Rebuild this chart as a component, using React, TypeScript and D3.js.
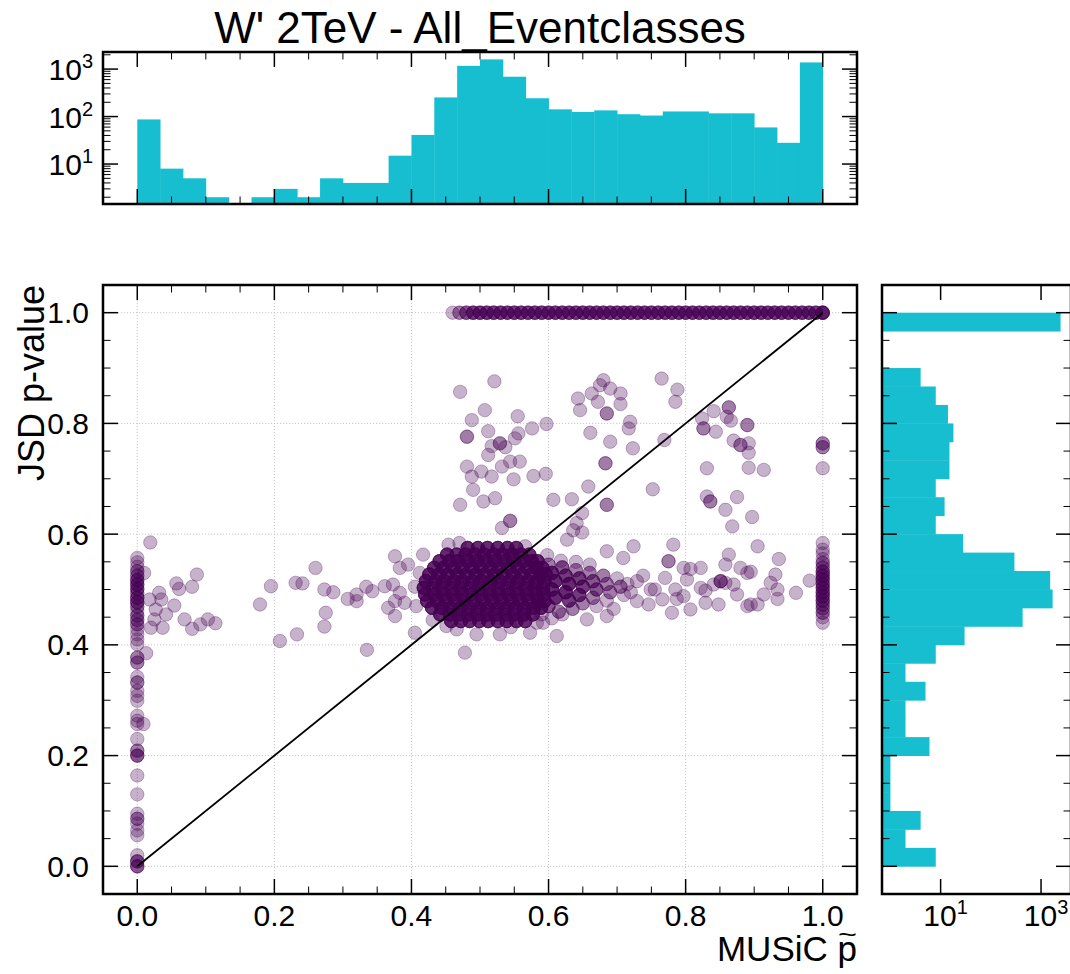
import React from "react";
import * as d3 from "d3";

// ---------------- text ----------------
const TITLE = "W' 2TeV - All_Eventclasses";
const X_LABEL_MAIN = "MUSiC p";
const X_LABEL_ACCENT = "~";
const Y_LABEL = "JSD p-value";

// ---------------- ticks ----------------
const MAJOR_TICKS = [0, 0.2, 0.4, 0.6, 0.8, 1.0];
const MINOR_TICKS = [0.05, 0.1, 0.15, 0.25, 0.3, 0.35, 0.45, 0.5, 0.55, 0.65, 0.7, 0.75, 0.85, 0.9, 0.95];
const TOP_MAJOR = [10, 100, 1000];
const TOP_MAJOR_EXP = ["1", "2", "3"];
const RIGHT_MAJOR = [10, 1000];
const RIGHT_MAJOR_EXP = ["1", "3"];

// ---------------- histograms (30 bins on [0,1]) ----------------
const N_BINS = 30;
const TOP_COUNTS = [87, 8, 5, 2, 0, 2, 3, 2, 5, 4, 4, 15, 41, 253, 1170, 1600, 690, 243, 142, 125, 135, 112, 105, 128, 128, 117, 117, 59, 28, 1380];
const RIGHT_COUNTS = [8, 2, 4, 1, 1, 1, 6, 2, 2, 5, 2, 8, 30, 430, 1700, 1520, 295, 28, 8, 12, 8, 15, 15, 18, 14, 8, 4, 0, 0, 2450];

// ---------------- scatter data ----------------
// points with JSD p-value = 1.0 : [MUSiC p, count]
const JSD_ONE_ROW: [number, number][] = [
  [0.46, 1], [0.47, 2], [0.48, 3], [0.49, 4], [0.50, 4], [0.51, 4], [0.52, 4], [0.53, 4], [0.54, 4], [0.55, 4],
  [0.56, 4], [0.57, 4], [0.58, 4], [0.59, 4], [0.60, 4], [0.61, 4], [0.62, 4], [0.63, 4], [0.64, 4], [0.65, 4],
  [0.66, 4], [0.67, 4], [0.68, 4], [0.69, 4], [0.70, 4], [0.71, 4], [0.72, 4], [0.73, 4], [0.74, 4], [0.75, 4],
  [0.76, 4], [0.77, 4], [0.78, 4], [0.79, 4], [0.80, 4], [0.81, 4], [0.82, 4], [0.83, 4], [0.84, 4], [0.85, 4],
  [0.86, 4], [0.87, 4], [0.88, 4], [0.89, 4], [0.90, 4], [0.91, 4], [0.92, 4], [0.93, 4], [0.94, 4], [0.95, 4],
  [0.96, 4], [0.97, 4], [0.98, 4], [0.99, 4], [1.00, 6],
];

// points with MUSiC p = 0 : [JSD, count]
const MUSIC_ZERO_COL: [number, number][] = [
  [0.0, 3], [0.009, 3], [0.02, 1], [0.056, 1], [0.065, 1], [0.077, 1], [0.086, 2], [0.095, 1], [0.13, 1], [0.164, 1],
  [0.2, 3], [0.209, 2], [0.23, 1], [0.257, 1], [0.263, 1], [0.272, 1], [0.299, 1], [0.308, 1], [0.317, 1], [0.332, 2],
  [0.342, 1], [0.368, 2], [0.377, 2], [0.401, 1], [0.41, 1], [0.419, 1], [0.428, 1], [0.437, 2], [0.445, 2], [0.453, 2],
  [0.461, 1], [0.469, 2], [0.477, 3], [0.485, 3], [0.493, 2], [0.501, 3], [0.509, 3], [0.517, 3], [0.525, 2], [0.533, 2],
  [0.541, 1], [0.549, 1], [0.557, 1],
];

// points with MUSiC p = 1 : [JSD, count]
const MUSIC_ONE_COL: [number, number][] = [
  [0.44, 1], [0.45, 1], [0.458, 2], [0.466, 2], [0.473, 2], [0.48, 3], [0.488, 3], [0.495, 3], [0.503, 3], [0.51, 3],
  [0.518, 3], [0.525, 3], [0.532, 3], [0.54, 2], [0.548, 2], [0.555, 1], [0.565, 1], [0.572, 1], [0.584, 1],
  [0.719, 1], [0.757, 2], [0.764, 2],
];

// dense core around (0.51, 0.50): [JSD, MUSiC p values], 5 events each
const CORE_ROWS: [number, number[]][] = [
  [0.575, [0.482, 0.497, 0.511, 0.526, 0.540, 0.553]],
  [0.563, [0.452, 0.466, 0.479, 0.493, 0.506, 0.520, 0.533, 0.547, 0.560, 0.572]],
  [0.551, [0.441, 0.455, 0.468, 0.482, 0.495, 0.509, 0.522, 0.536, 0.549, 0.563, 0.576, 0.584]],
  [0.539, [0.433, 0.447, 0.461, 0.474, 0.488, 0.501, 0.515, 0.528, 0.542, 0.555, 0.569, 0.582, 0.591]],
  [0.527, [0.426, 0.440, 0.453, 0.467, 0.480, 0.494, 0.507, 0.521, 0.534, 0.548, 0.561, 0.575, 0.588, 0.596]],
  [0.515, [0.421, 0.435, 0.448, 0.462, 0.475, 0.489, 0.502, 0.516, 0.529, 0.543, 0.556, 0.570, 0.583, 0.594]],
  [0.503, [0.418, 0.432, 0.445, 0.459, 0.472, 0.486, 0.499, 0.513, 0.526, 0.540, 0.553, 0.567, 0.580, 0.592]],
  [0.491, [0.420, 0.434, 0.447, 0.461, 0.474, 0.488, 0.501, 0.515, 0.528, 0.542, 0.555, 0.569, 0.582, 0.593]],
  [0.479, [0.423, 0.437, 0.450, 0.464, 0.477, 0.491, 0.504, 0.518, 0.531, 0.545, 0.558, 0.572, 0.585, 0.594]],
  [0.467, [0.430, 0.444, 0.457, 0.471, 0.484, 0.498, 0.511, 0.525, 0.538, 0.552, 0.565, 0.579, 0.589]],
  [0.455, [0.442, 0.456, 0.469, 0.483, 0.496, 0.510, 0.523, 0.537, 0.550, 0.564, 0.577]],
  [0.443, [0.458, 0.472, 0.485, 0.499, 0.512, 0.526, 0.539, 0.553, 0.566]],
];

// tail of the core towards higher MUSiC p : [MUSiC p, JSD, count]
const TAIL_POINTS: [number, number, number][] = [
  [0.600, 0.545, 2], [0.605, 0.530, 5], [0.610, 0.515, 5], [0.605, 0.500, 5], [0.610, 0.485, 5], [0.600, 0.470, 3],
  [0.615, 0.460, 2], [0.620, 0.540, 3], [0.625, 0.525, 4], [0.630, 0.510, 5], [0.625, 0.495, 5], [0.630, 0.480, 4],
  [0.635, 0.465, 2], [0.640, 0.535, 2], [0.645, 0.520, 4], [0.650, 0.505, 4], [0.645, 0.490, 4], [0.650, 0.475, 2],
  [0.660, 0.530, 2], [0.665, 0.515, 3], [0.670, 0.500, 3], [0.665, 0.485, 2], [0.670, 0.470, 1], [0.680, 0.525, 2],
  [0.685, 0.510, 2], [0.690, 0.495, 2], [0.685, 0.480, 1], [0.700, 0.520, 1], [0.705, 0.505, 2], [0.710, 0.490, 1],
  [0.715, 0.510, 1], [0.720, 0.495, 1], [0.695, 0.465, 1], [0.656, 0.446, 1], [0.685, 0.452, 1], [0.612, 0.416, 1],
  [0.573, 0.422, 1], [0.620, 0.455, 1], [0.590, 0.455, 1], [0.640, 0.550, 1], [0.660, 0.545, 1],
  [0.598, 0.562, 1], [0.618, 0.552, 1], [0.592, 0.440, 1], [0.605, 0.448, 1],
];

// isolated points : [MUSiC p, JSD, count]
const SPARSE_POINTS: [number, number, number][] = [
  // near MUSiC p = 0
  [0.010, 0.530, 1], [0.057, 0.511, 1], [0.061, 0.501, 1], [0.080, 0.505, 1], [0.087, 0.527, 1], [0.032, 0.494, 1],
  [0.018, 0.482, 1], [0.035, 0.482, 1], [0.054, 0.471, 1], [0.042, 0.455, 1], [0.025, 0.446, 1], [0.020, 0.431, 1],
  [0.037, 0.431, 1], [0.069, 0.446, 1], [0.080, 0.429, 1], [0.092, 0.437, 1], [0.103, 0.446, 1], [0.114, 0.439, 1],
  [0.027, 0.464, 1], [0.013, 0.385, 1], [0.009, 0.257, 1], [0.019, 0.585, 1],
  // low MUSiC p plateau
  [0.195, 0.506, 1], [0.179, 0.473, 1], [0.231, 0.512, 1], [0.241, 0.511, 1], [0.260, 0.539, 1], [0.273, 0.500, 1],
  [0.286, 0.495, 1], [0.275, 0.458, 1], [0.307, 0.483, 1], [0.320, 0.491, 1], [0.320, 0.479, 1], [0.334, 0.505, 1],
  [0.343, 0.497, 1], [0.376, 0.479, 1], [0.383, 0.494, 1], [0.208, 0.407, 1], [0.233, 0.419, 1], [0.273, 0.433, 1],
  [0.335, 0.391, 1],
  // around the core
  [0.376, 0.560, 1], [0.383, 0.539, 1], [0.395, 0.545, 1], [0.373, 0.509, 1], [0.361, 0.506, 1], [0.366, 0.467, 1],
  [0.376, 0.452, 1], [0.390, 0.476, 1], [0.405, 0.422, 1], [0.417, 0.563, 1], [0.454, 0.581, 1], [0.478, 0.386, 1],
  [0.529, 0.419, 1], [0.451, 0.434, 1], [0.495, 0.419, 1], [0.412, 0.530, 1], [0.405, 0.505, 1], [0.407, 0.470, 1],
  [0.431, 0.445, 1], [0.466, 0.428, 1], [0.545, 0.432, 1], [0.583, 0.440, 1], [0.470, 0.584, 1], [0.566, 0.578, 1],
  // upper group
  [0.471, 0.857, 1], [0.521, 0.876, 1], [0.507, 0.824, 1], [0.488, 0.806, 1], [0.555, 0.813, 1], [0.481, 0.776, 2],
  [0.512, 0.786, 1], [0.556, 0.782, 1], [0.576, 0.791, 1], [0.597, 0.799, 1], [0.517, 0.759, 1], [0.529, 0.764, 2],
  [0.537, 0.757, 1], [0.551, 0.773, 1], [0.512, 0.743, 1], [0.481, 0.722, 1], [0.488, 0.704, 1], [0.502, 0.713, 1],
  [0.517, 0.704, 1], [0.532, 0.722, 1], [0.544, 0.731, 1], [0.558, 0.731, 1], [0.549, 0.699, 1], [0.490, 0.680, 1],
  [0.505, 0.659, 1], [0.522, 0.665, 1], [0.578, 0.705, 1], [0.596, 0.709, 1], [0.471, 0.653, 1], [0.607, 0.662, 1],
  [0.634, 0.663, 1], [0.658, 0.686, 1], [0.685, 0.653, 2],
  [0.680, 0.878, 1], [0.675, 0.869, 1], [0.663, 0.854, 1], [0.690, 0.863, 1], [0.705, 0.854, 1], [0.705, 0.835, 1],
  [0.672, 0.839, 1], [0.643, 0.845, 1], [0.646, 0.824, 1], [0.685, 0.818, 2], [0.719, 0.803, 1], [0.717, 0.791, 1],
  [0.661, 0.783, 1], [0.690, 0.767, 1], [0.723, 0.755, 1], [0.683, 0.728, 2],
  [0.765, 0.881, 1], [0.788, 0.861, 1], [0.785, 0.839, 1], [0.769, 0.770, 1], [0.752, 0.681, 1], [0.824, 0.809, 1],
  [0.841, 0.822, 1], [0.826, 0.791, 2], [0.844, 0.785, 1], [0.863, 0.829, 2], [0.860, 0.812, 1], [0.866, 0.805, 1],
  [0.890, 0.797, 2], [0.870, 0.769, 1], [0.880, 0.761, 2], [0.892, 0.764, 1], [0.892, 0.747, 1], [0.831, 0.719, 1],
  [0.892, 0.720, 1], [0.914, 0.716, 1], [0.831, 0.668, 1], [0.836, 0.659, 2], [0.875, 0.667, 1], [0.858, 0.644, 1],
  [0.897, 0.631, 1], [0.868, 0.614, 1],
  [0.532, 0.611, 1], [0.544, 0.624, 2], [0.627, 0.590, 1], [0.636, 0.607, 1], [0.649, 0.603, 1], [0.641, 0.620, 1],
  [0.649, 0.638, 1],
  // right plateau
  [0.685, 0.569, 1], [0.724, 0.578, 1], [0.709, 0.557, 1], [0.782, 0.581, 1], [0.775, 0.551, 2], [0.797, 0.539, 1],
  [0.807, 0.537, 1], [0.822, 0.539, 1], [0.863, 0.563, 1], [0.858, 0.545, 1], [0.905, 0.578, 1], [0.936, 0.555, 1],
  [0.931, 0.527, 1], [0.880, 0.539, 1], [0.890, 0.530, 1], [0.895, 0.532, 1], [0.961, 0.494, 1], [0.981, 0.516, 1],
  [0.924, 0.512, 1], [0.934, 0.500, 1], [0.934, 0.483, 1], [0.914, 0.491, 1], [0.905, 0.473, 1], [0.890, 0.470, 1],
  [0.895, 0.473, 1], [0.875, 0.491, 1], [0.870, 0.509, 1], [0.851, 0.515, 3], [0.841, 0.509, 1], [0.858, 0.512, 1],
  [0.822, 0.503, 1], [0.829, 0.498, 1], [0.848, 0.473, 1], [0.829, 0.476, 1], [0.807, 0.464, 1], [0.797, 0.488, 1],
  [0.785, 0.500, 1], [0.780, 0.458, 1], [0.787, 0.483, 1], [0.802, 0.518, 1], [0.770, 0.521, 1], [0.766, 0.482, 1],
  [0.749, 0.500, 1], [0.746, 0.473, 1], [0.729, 0.515, 1], [0.729, 0.479, 1], [0.738, 0.525, 1], [0.755, 0.500, 1],
];

// ---------------- layout ----------------
const W = 1070;
const H = 974;
const MAIN = { l: 103, r: 857, t: 285, b: 894 };
const TOP = { l: 103, r: 857, t: 52, b: 204 };
const RIGHT = { l: 882, r: 1071, t: 285, b: 894 };
const FONT = "'Liberation Sans', Arial, Helvetica, sans-serif";
const PURPLE = "#440154";
const CYAN = "#17becf";
const MAJ = 15;
const MIN = 7.5;
const TICK_FS = 30;
const SUP_FS = 20;

export default function App() {
  const x = d3.scaleLinear().domain([-0.05, 1.05]).range([MAIN.l, MAIN.r]);
  const y = d3.scaleLinear().domain([-0.05, 1.05]).range([MAIN.b, MAIN.t]);
  const yTop = d3.scaleLog().domain([1.44, 2290]).range([TOP.b, TOP.t]);
  const xRight = d3.scaleLog().domain([0.68, 3950]).range([RIGHT.l, RIGHT.r]);
  const binEdges = d3.range(N_BINS + 1).map((i) => i / N_BINS);
  const fmt = d3.format(".1f");

  // expand scatter points
  const pts: { px: number; py: number }[] = [];
  const add = (xv: number, yv: number, n: number) => {
    for (let i = 0; i < n; i++) pts.push({ px: x(xv), py: y(yv) });
  };
  MUSIC_ZERO_COL.forEach(([yv, n]) => add(0, yv, n));
  SPARSE_POINTS.forEach(([xv, yv, n]) => add(xv, yv, n));
  TAIL_POINTS.forEach(([xv, yv, n]) => add(xv, yv, n));
  CORE_ROWS.forEach(([yv, xs]) => xs.forEach((xv) => add(xv, yv, 5)));
  MUSIC_ONE_COL.forEach(([yv, n]) => add(1, yv, n));
  JSD_ONE_ROW.forEach(([xv, n]) => add(xv, 1, n));

  // top minor log ticks
  const topMinor: number[] = [];
  [1, 10, 100, 1000].forEach((d) => {
    for (let k = 2; k <= 9; k++) {
      const v = d * k;
      if (v > 1.44 && v < 2290) topMinor.push(v);
    }
  });

  const xTicks = (box: typeof MAIN) => (
    <g stroke="#000">
      {MAJOR_TICKS.map((t) => (
        <g key={"M" + t} strokeWidth={1.5}>
          <line x1={x(t)} x2={x(t)} y1={box.b} y2={box.b - MAJ} />
          <line x1={x(t)} x2={x(t)} y1={box.t} y2={box.t + MAJ} />
        </g>
      ))}
      {MINOR_TICKS.map((t) => (
        <g key={"m" + t} strokeWidth={1}>
          <line x1={x(t)} x2={x(t)} y1={box.b} y2={box.b - MIN} />
          <line x1={x(t)} x2={x(t)} y1={box.t} y2={box.t + MIN} />
        </g>
      ))}
    </g>
  );
  const yTicks = (box: typeof MAIN) => (
    <g stroke="#000">
      {MAJOR_TICKS.map((t) => (
        <g key={"M" + t} strokeWidth={1.5}>
          <line x1={box.l} x2={box.l + MAJ} y1={y(t)} y2={y(t)} />
          <line x1={box.r} x2={box.r - MAJ} y1={y(t)} y2={y(t)} />
        </g>
      ))}
      {MINOR_TICKS.map((t) => (
        <g key={"m" + t} strokeWidth={1}>
          <line x1={box.l} x2={box.l + MIN} y1={y(t)} y2={y(t)} />
          <line x1={box.r} x2={box.r - MIN} y1={y(t)} y2={y(t)} />
        </g>
      ))}
    </g>
  );

  return (
    <svg
      width={W}
      height={H}
      style={{ position: "absolute", left: 0, top: 0, background: "#fff" }}
      fontFamily={FONT}
    >
      <defs>
        <clipPath id="clipMain">
          <rect x={MAIN.l} y={MAIN.t} width={MAIN.r - MAIN.l} height={MAIN.b - MAIN.t} />
        </clipPath>
        <clipPath id="clipTop">
          <rect x={TOP.l} y={TOP.t} width={TOP.r - TOP.l} height={TOP.b - TOP.t} />
        </clipPath>
        <clipPath id="clipRight">
          <rect x={RIGHT.l} y={RIGHT.t} width={RIGHT.r - RIGHT.l} height={RIGHT.b - RIGHT.t} />
        </clipPath>
      </defs>
      <rect x={0} y={0} width={W} height={H} fill="#fff" />

      {/* ---------- title ---------- */}
      <text x={(TOP.l + TOP.r) / 2} y={43} textAnchor="middle" fontSize={44} fill="#000">
        {TITLE}
      </text>

      {/* ---------- top histogram ---------- */}
      <g clipPath="url(#clipTop)">
        {TOP_COUNTS.map((c, i) =>
          c > 0 ? (
            <rect
              key={i}
              x={x(binEdges[i])}
              width={x(binEdges[i + 1]) - x(binEdges[i]) + 0.4}
              y={yTop(c)}
              height={TOP.b - yTop(c)}
              fill={CYAN}
            />
          ) : null
        )}
      </g>
      {xTicks(TOP)}
      <g stroke="#000">
        {TOP_MAJOR.map((t) => (
          <g key={t} strokeWidth={1.5}>
            <line x1={TOP.l} x2={TOP.l + MAJ} y1={yTop(t)} y2={yTop(t)} />
            <line x1={TOP.r} x2={TOP.r - MAJ} y1={yTop(t)} y2={yTop(t)} />
          </g>
        ))}
        {topMinor.map((t) => (
          <g key={t} strokeWidth={1}>
            <line x1={TOP.l} x2={TOP.l + MIN} y1={yTop(t)} y2={yTop(t)} />
            <line x1={TOP.r} x2={TOP.r - MIN} y1={yTop(t)} y2={yTop(t)} />
          </g>
        ))}
      </g>
      {TOP_MAJOR.map((t, i) => (
        <text key={t} x={93} y={yTop(t) + 11} textAnchor="end" fontSize={TICK_FS} fill="#000">
          10
          <tspan fontSize={SUP_FS} dy={-12}>
            {TOP_MAJOR_EXP[i]}
          </tspan>
        </text>
      ))}
      <rect x={TOP.l} y={TOP.t} width={TOP.r - TOP.l} height={TOP.b - TOP.t} fill="none" stroke="#000" strokeWidth={2.5} />

      {/* ---------- main scatter ---------- */}
      <g stroke="#c8c8c8" strokeWidth={1} strokeDasharray="1.2 1.8">
        {MAJOR_TICKS.map((t) => (
          <line key={"gx" + t} x1={x(t)} x2={x(t)} y1={MAIN.t} y2={MAIN.b} />
        ))}
        {MAJOR_TICKS.map((t) => (
          <line key={"gy" + t} x1={MAIN.l} x2={MAIN.r} y1={y(t)} y2={y(t)} />
        ))}
      </g>
      <g clipPath="url(#clipMain)">
        {pts.map((p, i) => (
          <circle
            key={i}
            cx={p.px}
            cy={p.py}
            r={6.7}
            fill={PURPLE}
            fillOpacity={0.3}
            stroke={PURPLE}
            strokeOpacity={0.3}
            strokeWidth={1}
          />
        ))}
        <line x1={x(0)} y1={y(0)} x2={x(1)} y2={y(1)} stroke="#000" strokeWidth={1.8} />
      </g>
      {xTicks(MAIN)}
      {yTicks(MAIN)}
      {MAJOR_TICKS.map((t) => (
        <text key={"xl" + t} x={x(t)} y={926} textAnchor="middle" fontSize={TICK_FS} fill="#000">
          {fmt(t)}
        </text>
      ))}
      {MAJOR_TICKS.map((t) => (
        <text key={"yl" + t} x={89} y={y(t) + 10.5} textAnchor="end" fontSize={TICK_FS} fill="#000">
          {fmt(t)}
        </text>
      ))}
      <rect x={MAIN.l} y={MAIN.t} width={MAIN.r - MAIN.l} height={MAIN.b - MAIN.t} fill="none" stroke="#000" strokeWidth={2.5} />
      <text fontSize={35} fill="#000">
        <tspan x={MAIN.r} y={961} textAnchor="end">
          {X_LABEL_MAIN}
        </tspan>
        <tspan x={838} y={943} fontSize={24} textLength={19} lengthAdjust="spacingAndGlyphs">
          {X_LABEL_ACCENT}
        </tspan>
      </text>
      <text transform={`translate(44, ${MAIN.t}) rotate(-90)`} textAnchor="end" fontSize={36} fill="#000">
        {Y_LABEL}
      </text>

      {/* ---------- right histogram ---------- */}
      <g clipPath="url(#clipRight)">
        {RIGHT_COUNTS.map((c, i) =>
          c > 0 ? (
            <rect
              key={i}
              x={RIGHT.l}
              width={xRight(c) - RIGHT.l}
              y={y(binEdges[i + 1])}
              height={y(binEdges[i]) - y(binEdges[i + 1]) + 0.4}
              fill={CYAN}
            />
          ) : null
        )}
      </g>
      {yTicks(RIGHT)}
      <g stroke="#000" strokeWidth={1.5}>
        {RIGHT_MAJOR.map((t) => (
          <g key={t}>
            <line x1={xRight(t)} x2={xRight(t)} y1={RIGHT.b} y2={RIGHT.b - MAJ} />
            <line x1={xRight(t)} x2={xRight(t)} y1={RIGHT.t} y2={RIGHT.t + MAJ} />
          </g>
        ))}
      </g>
      {RIGHT_MAJOR.map((t, i) => (
        <text key={t} x={xRight(t) + 5} y={926} textAnchor="middle" fontSize={TICK_FS} fill="#000">
          10
          <tspan fontSize={SUP_FS} dy={-12}>
            {RIGHT_MAJOR_EXP[i]}
          </tspan>
        </text>
      ))}
      <rect x={RIGHT.l} y={RIGHT.t} width={RIGHT.r - RIGHT.l} height={RIGHT.b - RIGHT.t} fill="none" stroke="#000" strokeWidth={2.5} />
    </svg>
  );
}
